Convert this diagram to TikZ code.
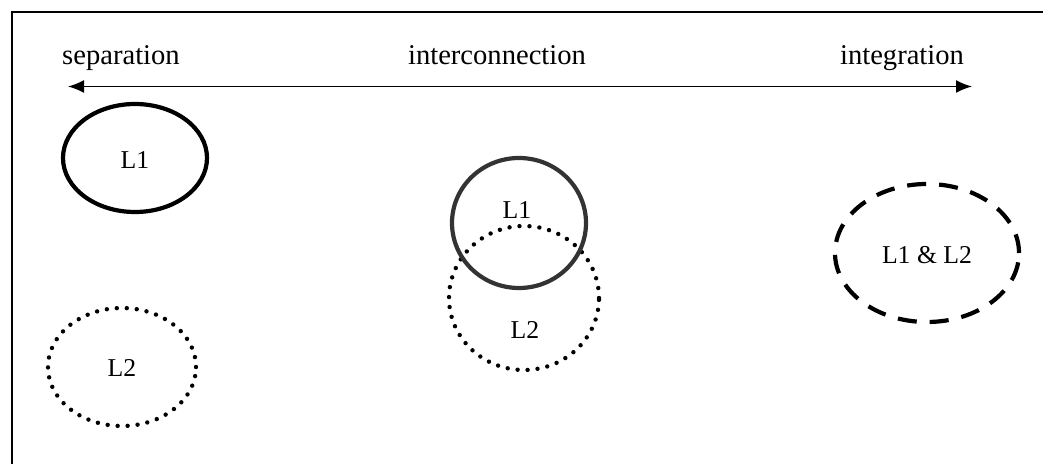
\documentclass[tikz,border=0pt]{standalone}
\usepackage{fontspec}
\setmainfont{Liberation Serif}
\usetikzlibrary{shapes.geometric,arrows.meta}
\begin{document}
\begin{tikzpicture}[x=0.5pt,y=-0.5pt,
  hdr/.style={font=\fontsize{14.3}{16}\selectfont, anchor=base, inner sep=0pt},
  lbl/.style={font=\fontsize{12.85}{15}\selectfont, inner sep=0pt},
  ring/.style={ellipse, inner sep=0pt, outer sep=0pt},
  solidring/.style={ring, draw, line width=2.1pt},
  dotring/.style={ring, draw, line width=2.2pt, line cap=round, dash pattern=on 0pt off 5pt},
  dashring/.style={ring, draw, line width=2.1pt, dash pattern=on 9.5pt off 6.5pt},
  frameline/.style={line width=1pt},
  axisarrow/.style={line width=0.8pt, {Latex[length=8pt,width=6.5pt]}-{Latex[length=8pt,width=6.5pt]}}
]
\useasboundingbox (0,0) rectangle (1043,464);
% frame (partly outside the crop)
\coordinate (ftr) at (1043,12.5);
\coordinate (ftl) at (11.5,12.5);
\coordinate (fbl) at (11.5,464);
\draw[frameline] (ftr) -- (ftl) -- (fbl);

% headings
\node[hdr] (sep) at (121,65) {separation};
\node[hdr] (inter) at (497,65) {interconnection};
\node[hdr] (integ) at (902,65) {integration};

% scale arrow
\coordinate (aL) at (68,86.5);
\coordinate (aR) at (972,86.5);
\draw[axisarrow] (aL) -- (aR);

% separation
\node[solidring, minimum width=72pt, minimum height=54pt] (sL1) at (135,158) {};
\node[lbl] (sL1t) at (135,160) {L1};
\node[dotring, minimum width=74pt, minimum height=59pt] (sL2) at (122,367) {};
\node[lbl] (sL2t) at (122,368) {L2};

% interconnection
\node[dotring, minimum width=75pt, minimum height=72pt] (iL2) at (524,298) {};
\node[solidring, draw=black!80, minimum width=67pt, minimum height=65pt] (iL1) at (519,223) {};
\node[lbl] (iL1t) at (517,210) {L1};
\node[lbl] (iL2t) at (525,330) {L2};

% integration
\node[dashring, minimum width=92pt, minimum height=69pt] (gL) at (927,253) {};
\node[lbl] (gLt) at (927,255) {L1 \& L2};
\end{tikzpicture}
\end{document}
